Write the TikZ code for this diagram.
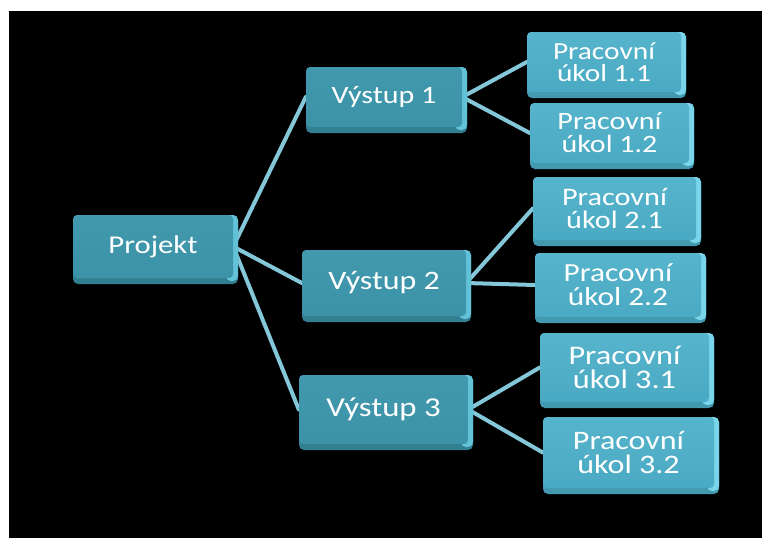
\documentclass[tikz,border=0pt]{standalone}
\usepackage{fontspec}
\setmainfont{Carlito}[FakeStretch=1.2]
\usetikzlibrary{backgrounds}

\definecolor{darkface}{HTML}{3C92A7}
\definecolor{darkfacetop}{HTML}{4299AE}
\definecolor{darkbottom}{HTML}{337F92}
\definecolor{darklight}{HTML}{62C2D8}
\definecolor{lightface}{HTML}{4BAAC3}
\definecolor{lightfacetop}{HTML}{56B4CC}
\definecolor{lightbottom}{HTML}{4299B0}
\definecolor{lightlight}{HTML}{7AD4EA}
\definecolor{linkcol}{HTML}{84C7D8}

\tikzset{
  darkboxface/.style={rounded corners=4pt, top color=darkfacetop, bottom color=darkface,
    text=white, align=center, inner sep=0pt},
  lightboxface/.style={rounded corners=4pt, top color=lightfacetop, bottom color=lightface,
    text=white, align=center, inner sep=0pt},
  darkboxedge/.style={fill=darkbottom, rounded corners=5pt},
  darkboxlight/.style={fill=darklight, rounded corners=5pt},
  lightboxedge/.style={fill=lightbottom, rounded corners=5pt},
  lightboxlight/.style={fill=lightlight, rounded corners=5pt},
  link/.style={draw=linkcol, line width=4pt, line cap=round},
}

% bevelled box: name, x1, y1, x2, y2, kind (dark/light), font size, text
\newcommand\wbox[8]{%
  \fill[#6boxedge] (#2,#3) rectangle (#4,#5);
  \fill[#6boxlight] ({#4-12},#3) rectangle (#4,{#5-3});
  \pgfmathsetmacro\wbskip{#7*0.92}%
  \node[#6boxface, font=\fontsize{#7}{\wbskip}\selectfont,
        minimum width={#4-#2-5}, minimum height={#5-#3-6}]
    (#1) at ({(#2+#4-5)/2},{(#3+#5-6)/2}) {#8};
}

\begin{document}
\begin{tikzpicture}[x=1pt, y=-1pt]
  \useasboundingbox (0,0) rectangle (762,538);
  \begin{pgfonlayer}{background}
    \fill[white] (0,0) rectangle (762,538);
    \fill[black] (9,11) rectangle (762,538);
  \end{pgfonlayer}

  % root and deliverables
  \wbox{proj}{73}{215}{238}{284}{dark}{25.6}{Projekt}
  \wbox{v1}{306}{67}{467}{133}{dark}{25}{Výstup 1}
  \wbox{v2}{302}{250}{471}{322}{dark}{26.6}{Výstup 2}
  \wbox{v3}{299}{375}{473}{450}{dark}{27.3}{Výstup 3}

  % work packages
  \wbox{w11}{527}{32}{686}{98}{light}{24.5}{Pracovní\\úkol 1.1}
  \wbox{w12}{530}{103}{694}{169}{light}{25}{Pracovní\\úkol 1.2}
  \wbox{w21}{533}{177}{701}{246}{light}{25.2}{Pracovní\\úkol 2.1}
  \wbox{w22}{535}{253}{706}{323}{light}{26.1}{Pracovní\\úkol 2.2}
  \wbox{w31}{540}{333}{714}{408}{light}{26.9}{Pracovní\\úkol 3.1}
  \wbox{w32}{543}{417}{719}{494}{light}{26.7}{Pracovní\\úkol 3.2}

  % connectors, drawn beneath the boxes
  \begin{pgfonlayer}{background}
    \draw[link] (proj.east) -- (v1.west);
    \draw[link] (proj.east) -- (v2.west);
    \draw[link] (proj.east) -- (v3.west);
    \draw[link] (v1.east) -- (w11.west);
    \draw[link] (v1.east) -- (w12.west);
    \draw[link] (v2.east) -- (w21.west);
    \draw[link] (v2.east) -- (w22.west);
    \draw[link] (v3.east) -- (w31.west);
    \draw[link] (v3.east) -- (w32.west);
  \end{pgfonlayer}
\end{tikzpicture}
\end{document}
